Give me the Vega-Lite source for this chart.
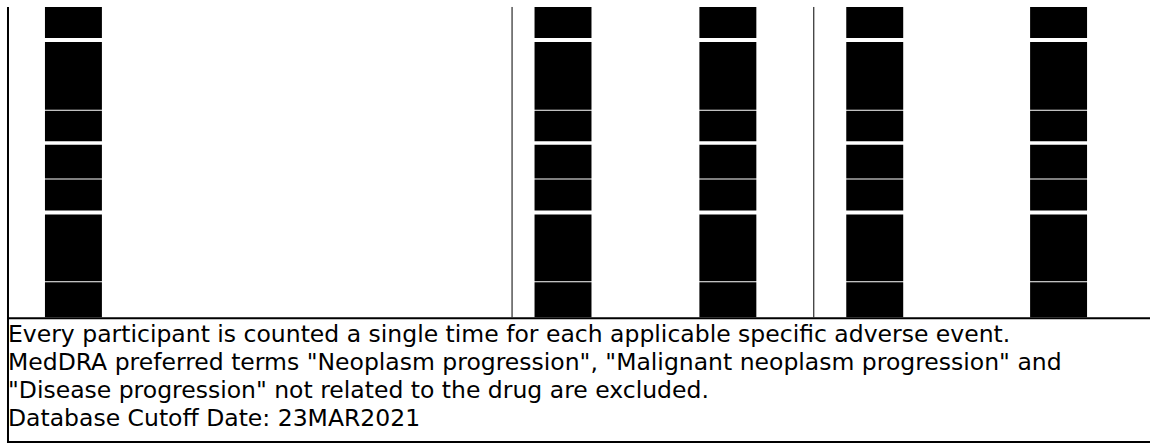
{
  "$schema": "https://vega.github.io/schema/vega-lite/v6.json",
  "width": 1151,
  "height": 444,
  "autosize": {"type": "fit", "contains": "padding"},
  "padding": 0,
  "background": "white",
  "config": {"view": {"stroke": null}},
  "datasets": {
    "rows": [
      {"row": 1, "top": 7, "bottom": 38, "col": ["C1", "C2", "C3", "C4", "C5"]},
      {"row": 2, "top": 42, "bottom": 110, "col": ["C1", "C2", "C3", "C4", "C5"]},
      {"row": 3, "top": 111, "bottom": 141.5, "col": ["C1", "C2", "C3", "C4", "C5"]},
      {"row": 4, "top": 145, "bottom": 179, "col": ["C1", "C2", "C3", "C4", "C5"]},
      {"row": 5, "top": 180, "bottom": 211, "col": ["C1", "C2", "C3", "C4", "C5"]},
      {"row": 6, "top": 215, "bottom": 282, "col": ["C1", "C2", "C3", "C4", "C5"]},
      {"row": 7, "top": 283, "bottom": 318, "col": ["C1", "C2", "C3", "C4", "C5"]}
    ],
    "cols": [
      {"col": "C1", "left": 45, "right": 102},
      {"col": "C2", "left": 535, "right": 592},
      {"col": "C3", "left": 700, "right": 757},
      {"col": "C4", "left": 847, "right": 904},
      {"col": "C5", "left": 1031, "right": 1088}
    ],
    "lines": [
      {"kind": "border", "x1": 8, "x2": 8, "y1": 7, "y2": 444},
      {"kind": "border", "x1": 7, "x2": 1151, "y1": 319, "y2": 319},
      {"kind": "border", "x1": 7, "x2": 1151, "y1": 443, "y2": 443},
      {"kind": "divider", "x1": 512.5, "x2": 512.5, "y1": 7, "y2": 318},
      {"kind": "divider", "x1": 814.5, "x2": 814.5, "y1": 7, "y2": 318}
    ],
    "notes": [
      {"line": 1, "x": 8, "y": 343, "text": "Every participant is counted a single time for each applicable specific adverse event."},
      {"line": 2, "x": 8, "y": 371, "text": "MedDRA preferred terms \"Neoplasm progression\", \"Malignant neoplasm progression\" and"},
      {"line": 3, "x": 8, "y": 399, "text": "\"Disease progression\" not related to the drug are excluded."},
      {"line": 4, "x": 8, "y": 427, "text": "Database Cutoff Date: 23MAR2021"}
    ]
  },
  "layer": [
    {
      "data": {"name": "rows"},
      "transform": [
        {"flatten": ["col"]},
        {"lookup": "col", "from": {"data": {"name": "cols"}, "key": "col", "fields": ["left", "right"]}}
      ],
      "mark": {"type": "rect", "color": "black"},
      "encoding": {
        "x": {"field": "left", "type": "quantitative", "scale": {"domain": [0, 1151], "nice": false, "zero": false}, "axis": null},
        "x2": {"field": "right"},
        "y": {"field": "top", "type": "quantitative", "scale": {"domain": [0, 444], "nice": false, "zero": false, "reverse": true}, "axis": null},
        "y2": {"field": "bottom"}
      }
    },
    {
      "data": {"name": "lines"},
      "transform": [{"filter": "datum.kind == 'border'"}],
      "mark": {"type": "rule", "color": "black", "strokeWidth": 2},
      "encoding": {
        "x": {"field": "x1", "type": "quantitative"},
        "x2": {"field": "x2"},
        "y": {"field": "y1", "type": "quantitative"},
        "y2": {"field": "y2"}
      }
    },
    {
      "data": {"name": "lines"},
      "transform": [{"filter": "datum.kind == 'divider'"}],
      "mark": {"type": "rule", "color": "black", "strokeWidth": 1},
      "encoding": {
        "x": {"field": "x1", "type": "quantitative"},
        "x2": {"field": "x2"},
        "y": {"field": "y1", "type": "quantitative"},
        "y2": {"field": "y2"}
      }
    },
    {
      "data": {"name": "notes"},
      "mark": {"type": "text", "align": "left", "baseline": "alphabetic", "font": "DejaVu Sans", "fontSize": 23.5, "color": "black"},
      "encoding": {
        "x": {"field": "x", "type": "quantitative"},
        "y": {"field": "y", "type": "quantitative"},
        "text": {"field": "text", "type": "nominal"}
      }
    }
  ]
}
